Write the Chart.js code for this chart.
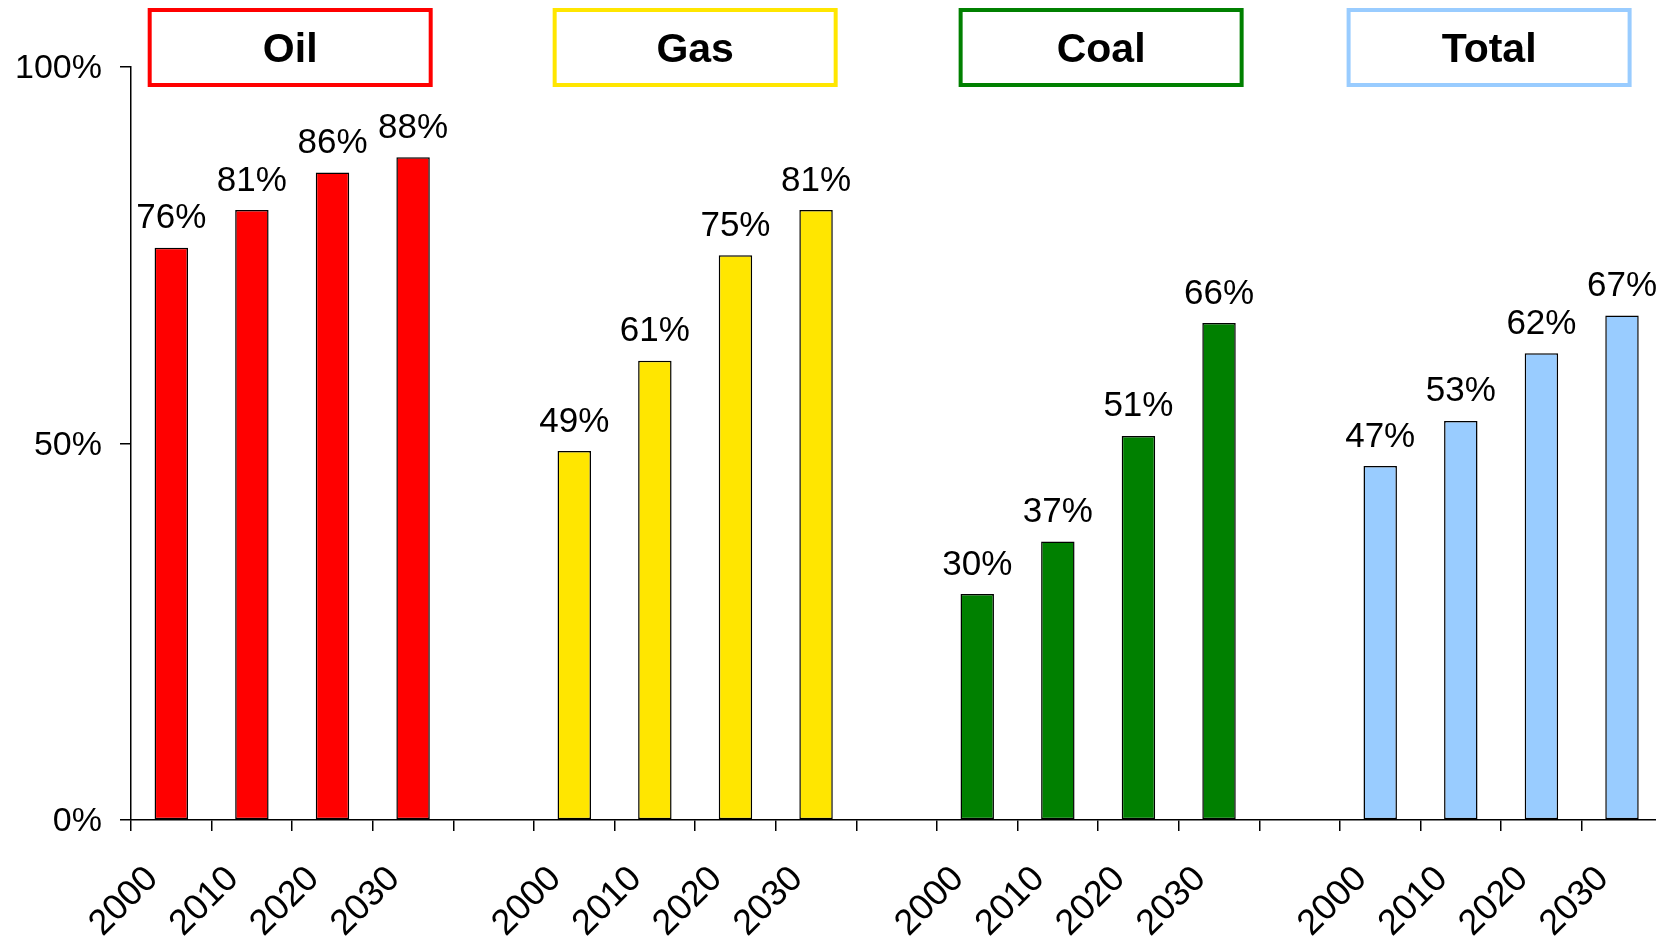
<!DOCTYPE html>
<html>
<head>
<meta charset="utf-8">
<script src="https://cdn.jsdelivr.net/npm/chart.js@4.4.1/dist/chart.umd.min.js"></script>
<style>
  html, body { margin: 0; padding: 0; background: #fff; overflow: hidden; }
  #wrap { position: absolute; left: 0; top: 0; }
</style>
</head>
<body>
<div id="wrap"><canvas id="c" width="1680" height="936"></canvas></div>
<script>
// categories
const fuels = ['Oil', 'Gas', 'Coal', 'Total'];
const years = ['2000', '2010', '2020', '2030'];
// share values (%), per fuel, by year
const oil = [76, 81, 86, 88];
const gas = [49, 61, 75, 81];
const coal = [30, 37, 51, 66];
const total = [47, 53, 62, 67];
// y axis ticks
const yTicks = [0, 50, 100];

const series = [oil, gas, coal, total];
const colors = ['#FF0000', '#FFE600', '#008000', '#99CCFF'];
const boxNudge = [-2, 0, 3, -12];

// one empty slot between fuel groups
const slots = years.length + 1;
const labels = [];
fuels.forEach((f, g) => {
  years.forEach(y => labels.push(y));
  if (g < fuels.length - 1) labels.push('');
});

const datasets = series.map((vals, g) => {
  const d = labels.map(() => null);
  vals.forEach((v, i) => { d[g * slots + i] = v; });
  return {
    label: fuels[g],
    data: d,
    backgroundColor: colors[g],
    borderColor: '#000',
    borderWidth: 1.5,
    borderSkipped: false,
    grouped: false,
    categoryPercentage: 1,
    barPercentage: 0.415
  };
});

// value labels above bars
const valueLabels = {
  id: 'valueLabels',
  afterDatasetsDraw(chart) {
    const ctx = chart.ctx;
    ctx.save();
    ctx.font = '35px "Liberation Sans", Arial, sans-serif';
    ctx.fillStyle = '#000';
    ctx.textAlign = 'center';
    ctx.textBaseline = 'alphabetic';
    chart.data.datasets.forEach((ds, di) => {
      chart.getDatasetMeta(di).data.forEach((bar, i) => {
        const v = ds.data[i];
        if (v == null) return;
        ctx.fillText(v + '%', bar.x, bar.y - 19.5);
      });
    });
    ctx.restore();
  }
};

// framed group titles
const groupBoxes = {
  id: 'groupBoxes',
  afterDraw(chart) {
    const ctx = chart.ctx;
    const x = chart.scales.x;
    ctx.save();
    fuels.forEach((f, g) => {
      const a = x.getPixelForValue(g * slots);
      const b = x.getPixelForValue(g * slots + years.length - 1);
      const cx = (a + b) / 2 + boxNudge[g];
      const w = 281, h = 75, top = 10;
      ctx.lineWidth = 4;
      ctx.strokeStyle = colors[g];
      ctx.strokeRect(cx - w / 2, top, w, h);
      ctx.fillStyle = '#000';
      ctx.font = 'bold 41px "Liberation Sans", Arial, sans-serif';
      ctx.textAlign = 'center';
      ctx.textBaseline = 'middle';
      ctx.fillText(f, cx, top + h / 2 + 3);
    });
    ctx.restore();
  }
};

new Chart(document.getElementById('c'), {
  type: 'bar',
  data: { labels: labels, datasets: datasets },
  plugins: [valueLabels, groupBoxes],
  options: {
    responsive: false,
    animation: false,
    devicePixelRatio: 1,
    layout: { padding: { top: 67, right: 17.4, left: 0, bottom: 0 } },
    plugins: { legend: { display: false }, tooltip: { enabled: false } },
    scales: {
      x: {
        afterFit(s) { s.height = 116; },
        grid: { drawOnChartArea: false, drawTicks: true, tickLength: 11, color: '#000', lineWidth: 1.5, offset: true },
        border: { display: true, color: '#000', width: 1.5 },
        ticks: {
          autoSkip: false,
          minRotation: 45,
          maxRotation: 45,
          padding: 27,
          labelOffset: -19,
          color: '#000',
          font: { family: '"Liberation Sans", Arial, sans-serif', size: 36 }
        }
      },
      y: {
        min: 0,
        max: 100,
        afterFit(s) { s.width = 131; },
        afterBuildTicks(s) { s.ticks = yTicks.map(v => ({ value: v })); },
        grid: { drawOnChartArea: false, drawTicks: true, tickLength: 11, color: '#000', lineWidth: 1.5 },
        border: { display: true, color: '#000', width: 1.5 },
        ticks: {
          padding: 18,
          labelOffset: 2,
          color: '#000',
          font: { family: '"Liberation Sans", Arial, sans-serif', size: 34 },
          callback: v => v + '%'
        }
      }
    }
  }
});
</script>
</body>
</html>
